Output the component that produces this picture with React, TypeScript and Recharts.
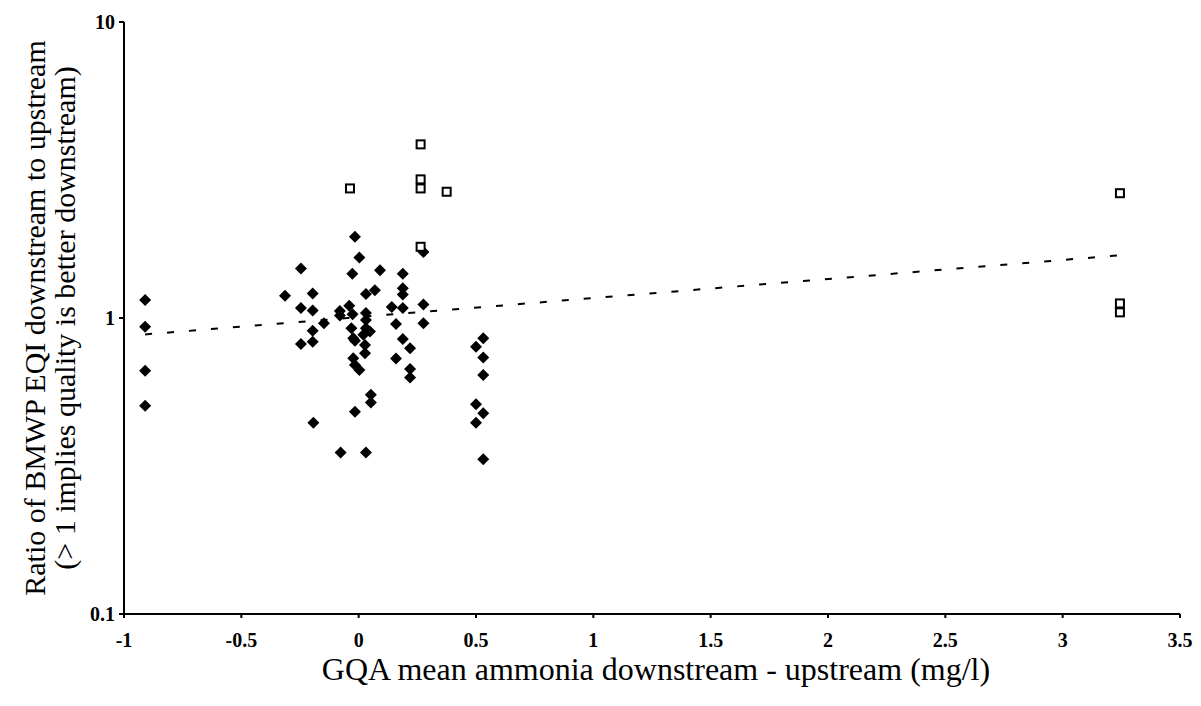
import {ScatterChart, Scatter, XAxis, YAxis, Label} from 'recharts';

// filled diamonds: [x, ratio]
const filledPoints: number[][] = [
    [-0.91, 1.15], [-0.91, 0.935], [-0.91, 0.664], [-0.91, 0.505],
    [-0.314, 1.19], [-0.246, 1.47], [-0.246, 1.08], [-0.246, 0.817],
    [-0.196, 1.21], [-0.196, 1.06], [-0.196, 0.906], [-0.196, 0.832], [-0.193, 0.443],
    [-0.148, 0.96], [-0.08, 1.055], [-0.08, 1.02], [-0.077, 0.351],
    [-0.04, 1.10], [-0.031, 0.923], [-0.027, 1.41], [-0.026, 1.03], [-0.023, 0.854],
    [-0.023, 0.731], [-0.016, 1.88], [-0.016, 0.838], [-0.016, 0.694], [-0.016, 0.482],
    [0.003, 1.60], [0.003, 0.667], [0.02, 0.877], [0.027, 0.811], [0.027, 0.76],
    [0.031, 1.205], [0.031, 1.04], [0.031, 0.985], [0.031, 0.923], [0.031, 0.351],
    [0.048, 0.90], [0.052, 0.55], [0.052, 0.518], [0.069, 1.24], [0.091, 1.45],
    [0.141, 1.09], [0.159, 0.954], [0.159, 0.73], [0.188, 1.41], [0.188, 1.26],
    [0.188, 1.20], [0.188, 1.08], [0.188, 0.85], [0.219, 0.79], [0.219, 0.673],
    [0.219, 0.63], [0.276, 1.67], [0.276, 1.11], [0.276, 0.96],
    [0.5, 0.80], [0.5, 0.511], [0.5, 0.443], [0.531, 0.854], [0.531, 0.736],
    [0.531, 0.642], [0.531, 0.477], [0.531, 0.333],
];

// open squares: [x, ratio]
const openPoints: number[][] = [
    [-0.037, 2.74], [0.264, 3.86], [0.264, 2.94], [0.264, 2.74], [0.264, 1.74],
    [0.375, 2.67], [3.244, 2.64], [3.244, 1.12], [3.244, 1.045],
];

// dashed trend line ends
const trendPoints: number[][] = [[-0.91, 0.88], [3.25, 1.63]];

const xTicks = [-1, -0.5, 0, 0.5, 1, 1.5, 2, 2.5, 3, 3.5];
const yTicks = [0.1, 1, 10];

const toXY = (pts: number[][]) => pts.map(([x, y]) => ({x, y}));

const FONT = '"Liberation Serif", "DejaVu Serif", serif';

const Diamond = (props: any) => {
    const {cx, cy} = props;
    const r = 6;
    return <path d={`M${cx},${cy - r}L${cx + r},${cy}L${cx},${cy + r}L${cx - r},${cy}Z`} fill="#000"/>;
};

const Square = (props: any) => {
    const {cx, cy} = props;
    return <rect x={cx - 4} y={cy - 4} width={8} height={8} fill="#fff" stroke="#000" strokeWidth={2}/>;
};

const NoDot = () => <g/>;

const XTick = (props: any) => {
    const {x, y, payload} = props;
    return (
        <text x={x} y={y + 27} textAnchor="middle" fontFamily={FONT} fontSize={20} fontWeight="bold" fill="#000">
            {payload.value}
        </text>
    );
};

const YTick = (props: any) => {
    const {x, y, payload} = props;
    return (
        <text x={x - 2} y={y} textAnchor="end" dominantBaseline="central" fontFamily={FONT} fontSize={20} fontWeight="bold" fill="#000">
            {payload.value}
        </text>
    );
};

const XLabel = (props: any) => {
    const {viewBox} = props;
    const cx = viewBox.x + viewBox.width / 2;
    return (
        <text x={cx + 4} y={680} textAnchor="middle" fontFamily={FONT} fontSize={32} fill="#000">
            GQA mean ammonia downstream - upstream (mg/l)
        </text>
    );
};

const YLabel = (props: any) => {
    const {viewBox} = props;
    const cy = viewBox.y + viewBox.height / 2;
    return (
        <g fontFamily={FONT} fontSize={30} fill="#000">
            <text x={34} y={cy} transform={`rotate(-90, 34, ${cy})`} textAnchor="middle" dominantBaseline="central">
                Ratio of BMWP EQI downstream to upstream
            </text>
            <text x={64} y={cy} transform={`rotate(-90, 64, ${cy})`} textAnchor="middle" dominantBaseline="central">
                (&gt; 1 implies quality is better downstream)
            </text>
        </g>
    );
};

const App = () => {
    return (
        <div style={{position: 'fixed', left: 0, top: 0, background: '#fff'}}>
            <ScatterChart width={1201} height={706} margin={{top: 22, right: 21, left: 64, bottom: 22}}>
                <XAxis
                    type="number"
                    dataKey="x"
                    domain={[-1, 3.5]}
                    ticks={xTicks}
                    interval={0}
                    height={70}
                    stroke="#000"
                    strokeWidth={2}
                    tickSize={4}
                    tick={<XTick/>}
                >
                    <Label content={<XLabel/>}/>
                </XAxis>
                <YAxis
                    type="number"
                    dataKey="y"
                    scale="log"
                    domain={[0.1, 10]}
                    ticks={yTicks}
                    interval={0}
                    allowDataOverflow
                    width={60}
                    stroke="#000"
                    strokeWidth={2}
                    tickSize={5}
                    tick={<YTick/>}
                >
                    <Label content={<YLabel/>}/>
                </YAxis>
                <Scatter
                    name="trend"
                    data={toXY(trendPoints)}
                    line={{stroke: '#000', strokeWidth: 2, strokeDasharray: '7 15'}}
                    shape={<NoDot/>}
                    isAnimationActive={false}
                />
                <Scatter name="filled" data={toXY(filledPoints)} shape={<Diamond/>} isAnimationActive={false}/>
                <Scatter name="open" data={toXY(openPoints)} shape={<Square/>} isAnimationActive={false}/>
            </ScatterChart>
        </div>
    );
};

export default App;
